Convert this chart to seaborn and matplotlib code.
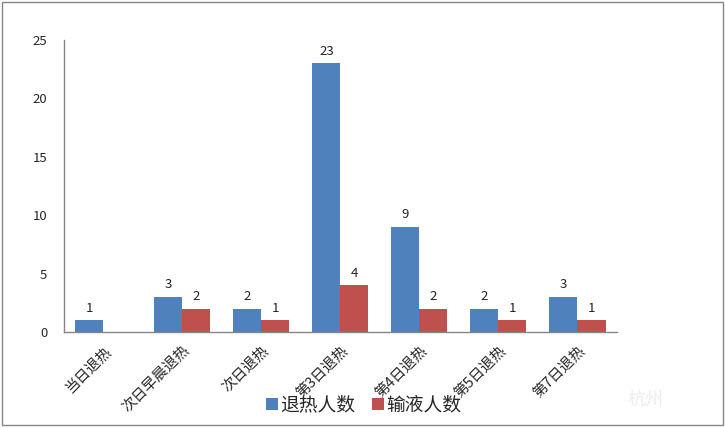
import pandas as pd
import matplotlib.pyplot as plt
import seaborn as sns
from matplotlib.patches import Rectangle

# 数据
categories = ['当日退热', '次日早晨退热', '次日退热', '第3日退热', '第4日退热', '第5日退热', '第7日退热']
fever_down = [1, 3, 2, 23, 9, 2, 3]
infusion = [None, 2, 1, 4, 2, 1, 1]
series_names = ['退热人数', '输液人数']
colors = ['#4F81BD', '#C0504D']

df = pd.DataFrame({
    'cat': categories * 2,
    'series': [series_names[0]] * len(categories) + [series_names[1]] * len(categories),
    'value': fever_down + infusion,
})

sns.set_style('white')
plt.rcParams['font.family'] = ['Noto Sans CJK SC', 'DejaVu Sans']

fig = plt.figure(figsize=(7.25, 4.28), dpi=100)
ax = fig.add_axes([0.088, 0.224, 0.763, 0.683])

sns.barplot(data=df, x='cat', y='value', hue='series', palette=colors,
            width=0.71, gap=0, saturation=1, ax=ax, legend=True,
            edgecolor='none', linewidth=0)

# 数据标签
for cont in ax.containers:
    ax.bar_label(cont, fmt='%g', padding=4, fontsize=9.5, color='#222222')

ax.set_xlim(-0.5, 6.5)
ax.set_ylim(0, 25)
ax.set_yticks([0, 5, 10, 15, 20, 25])
ax.set_xlabel('')
ax.set_ylabel('')
ax.tick_params(axis='y', length=0, pad=12, labelsize=9.5)
ax.tick_params(axis='x', length=0, pad=8, labelsize=10.5)
plt.setp(ax.get_xticklabels(), rotation=45, ha='right', rotation_mode='anchor')

for s in ['top', 'right']:
    ax.spines[s].set_visible(False)
for s in ['left', 'bottom']:
    ax.spines[s].set_color('#868686')
    ax.spines[s].set_linewidth(1)

# 图例放在底部
leg = ax.legend(loc='center', ncol=2, frameon=False, fontsize=13.5,
                handlelength=0.6, handleheight=0.6, handletextpad=0.15,
                columnspacing=0.9, bbox_to_anchor=(364 / 725, 1 - 405 / 428),
                bbox_transform=fig.transFigure)

# 外框
fig.patches.append(Rectangle((0.003, 0.007), 0.994, 0.988, transform=fig.transFigure,
                             fill=False, edgecolor='#868686', linewidth=1))
fig.text(0.865, 0.055, '杭州', fontsize=13, color='#ececec')

plt.savefig('out.png', dpi=100)
plt.close()
